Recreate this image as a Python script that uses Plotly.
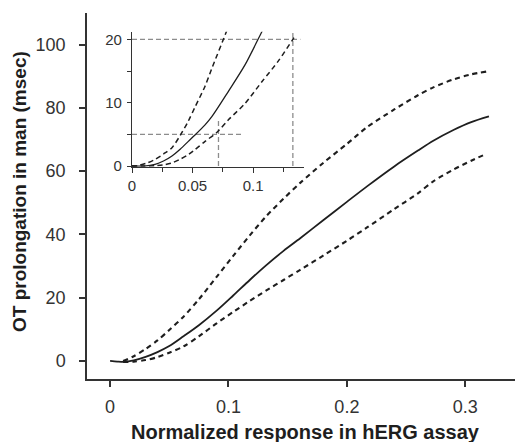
import plotly.graph_objects as go

# ---------------- main panel data ----------------
solid_x = [0.0, 0.006, 0.012, 0.02, 0.03, 0.04, 0.05, 0.062, 0.075, 0.09, 0.104, 0.118, 0.132,
           0.1465, 0.1606, 0.18, 0.2, 0.217, 0.24, 0.26, 0.273, 0.29, 0.305, 0.32]
solid_y = [0.0, -0.2, -0.3, 0.2, 1.3, 2.8, 4.7, 7.8, 11.3, 15.9, 20.7, 25.6, 30.3,
           34.8, 38.8, 44.5, 50.3, 55.2, 61.5, 66.5, 69.6, 73.0, 75.5, 77.3]

upper_x = [0.011, 0.02, 0.03, 0.04, 0.05, 0.062, 0.075, 0.09, 0.104, 0.118, 0.132, 0.1465,
           0.1606, 0.18, 0.2, 0.217, 0.24, 0.26, 0.273, 0.29, 0.305, 0.318]
upper_y = [0.0, 1.5, 3.8, 6.5, 9.8, 14.0, 19.5, 26.6, 33.2, 39.7, 45.8, 51.3,
           56.3, 62.6, 68.6, 73.9, 79.5, 84.0, 86.5, 89.0, 90.6, 91.5]

lower_x = [0.011, 0.02, 0.03, 0.04, 0.05, 0.062, 0.075, 0.09, 0.104, 0.118, 0.132, 0.1465,
           0.1606, 0.18, 0.2, 0.217, 0.24, 0.26, 0.273, 0.29, 0.305, 0.315]
lower_y = [-0.3, -0.2, 0.3, 1.2, 2.6, 4.6, 7.8, 11.9, 15.5, 19.0, 22.3, 25.6,
           28.8, 33.3, 38.0, 42.2, 48.0, 53.0, 56.8, 60.5, 63.3, 65.0]

main_xticks = [0, 0.1, 0.2, 0.3]
main_xlabels = ["0", "0.1", "0.2", "0.3"]
main_yticks = [0, 20, 40, 60, 80, 100]

# ---------------- inset data ----------------
in_solid_x = [0.0, 0.01, 0.019, 0.026, 0.033, 0.04, 0.0465, 0.052, 0.0603, 0.0659, 0.0796,
              0.0934, 0.1072, 0.110]
in_solid_y = [0.0, 0.0, 0.27, 0.8, 1.6, 2.7, 3.9, 4.9, 6.5, 7.8, 11.8, 16.0, 21.2, 22.2]

in_upper_x = [0.0, 0.004, 0.012, 0.019, 0.026, 0.033, 0.04, 0.0465, 0.052, 0.0603, 0.0659,
              0.0769, 0.079]
in_upper_y = [0.0, 0.05, 0.45, 1.05, 1.9, 2.9, 4.9, 7.1, 9.3, 12.6, 15.4, 20.7, 21.8]

in_lower_x = [0.0, 0.01, 0.019, 0.026, 0.033, 0.04, 0.0465, 0.052, 0.0603, 0.070, 0.0796,
              0.0934, 0.1072, 0.1209, 0.1328, 0.1347]
in_lower_y = [0.0, 0.0, 0.05, 0.2, 0.5, 1.1, 1.8, 2.6, 3.9, 5.3, 7.3, 9.9, 13.3, 16.6,
              20.0, 20.6]

# reference (grey dashed) guide lines in the inset
ref_h20_x = [0.0, 0.139]
ref_h20_y = [20, 20]
ref_v133_x = [0.1328, 0.1328]
ref_v133_y = [0, 21.2]
ref_h5_x = [0.0, 0.0906]
ref_h5_y = [5, 5]
ref_v071_x = [0.0714, 0.0714]
ref_v071_y = [0, 7.5]

inset_xticks = [0, 0.05, 0.1]
inset_xlabels = ["0", "0.05", "0.1"]
inset_yticks = [0, 10, 20]

INK = "#1e1e1e"
AX = "#333333"
GREY = "#8c8c8c"
FONT = "Liberation Sans, Arial, sans-serif"

fig = go.Figure()

# main curves
fig.add_trace(go.Scatter(x=upper_x, y=upper_y, mode="lines",
                         line=dict(color=INK, width=2.1, dash="5px,4px", shape="spline", smoothing=0.8),
                         xaxis="x", yaxis="y"))
fig.add_trace(go.Scatter(x=lower_x, y=lower_y, mode="lines",
                         line=dict(color=INK, width=2.1, dash="5px,4px", shape="spline", smoothing=0.8),
                         xaxis="x", yaxis="y"))
fig.add_trace(go.Scatter(x=solid_x, y=solid_y, mode="lines",
                         line=dict(color=INK, width=1.8, shape="spline", smoothing=0.8),
                         xaxis="x", yaxis="y"))

# inset guide lines
for gx, gy in [(ref_h20_x, ref_h20_y), (ref_v133_x, ref_v133_y),
               (ref_h5_x, ref_h5_y), (ref_v071_x, ref_v071_y)]:
    fig.add_trace(go.Scatter(x=gx, y=gy, mode="lines",
                             line=dict(color=GREY, width=1.3, dash="5px,3px"),
                             xaxis="x2", yaxis="y2"))

# inset curves
fig.add_trace(go.Scatter(x=in_upper_x, y=in_upper_y, mode="lines",
                         line=dict(color=INK, width=1.5, dash="5px,3.5px", shape="spline", smoothing=0.8),
                         xaxis="x2", yaxis="y2"))
fig.add_trace(go.Scatter(x=in_lower_x, y=in_lower_y, mode="lines",
                         line=dict(color=INK, width=1.5, dash="5px,3.5px", shape="spline", smoothing=0.8),
                         xaxis="x2", yaxis="y2"))
fig.add_trace(go.Scatter(x=in_solid_x, y=in_solid_y, mode="lines",
                         line=dict(color=INK, width=1.3, shape="spline", smoothing=0.8),
                         xaxis="x2", yaxis="y2"))

L, R, T, B = 87, 0, 13, 63
W, H = 515, 442
pw, ph = W - L - R, H - T - B

def px2paper_x(px):
    return (px - L) / pw

def px2paper_y(py):
    return (H - B - py) / ph

fig.update_layout(
    width=W, height=H,
    margin=dict(l=L, r=R, t=T, b=B, autoexpand=False),
    paper_bgcolor="white", plot_bgcolor="rgba(0,0,0,0)",
    showlegend=False,
    font=dict(family=FONT, color=AX),
    xaxis=dict(range=[-0.0195, 0.342], domain=[0, 1], anchor="y",
               tickvals=main_xticks, ticktext=main_xlabels,
               showline=True, linecolor=AX, linewidth=1.5,
               ticks="outside", ticklen=6, tickwidth=1.5, tickcolor=AX,
               showgrid=False, zeroline=False, ticklabelstandoff=5,
               tickfont=dict(size=18, color=AX, family=FONT)),
    yaxis=dict(range=[-5.7, 110], domain=[0, 1], anchor="x",
               tickvals=main_yticks,
               showline=True, linecolor=AX, linewidth=1.5,
               ticks="outside", ticklen=6, tickwidth=1.5, tickcolor=AX,
               showgrid=False, zeroline=False, ticklabelstandoff=10,
               tickfont=dict(size=18, color=AX, family=FONT)),
    xaxis2=dict(range=[0, 0.142], domain=[px2paper_x(132), px2paper_x(304)], anchor="y2",
                tickvals=inset_xticks, ticktext=inset_xlabels,
                minor=dict(dtick=0.025, tick0=0, ticks="outside", ticklen=4, tickwidth=1.2, tickcolor=AX),
                showline=True, linecolor=AX, linewidth=1.2,
                ticks="outside", ticklen=5, tickwidth=1.2, tickcolor=AX,
                showgrid=False, zeroline=False, ticklabelstandoff=0,
                tickfont=dict(size=15, color=AX, family=FONT)),
    yaxis2=dict(range=[-0.1, 21.2], domain=[px2paper_y(166.7), px2paper_y(31.7)], anchor="x2",
                tickvals=inset_yticks,
                minor=dict(dtick=5, tick0=0, ticks="outside", ticklen=4, tickwidth=1.2, tickcolor=AX),
                showline=True, linecolor=AX, linewidth=1.2,
                ticks="outside", ticklen=4, tickwidth=1.2, tickcolor=AX,
                showgrid=False, zeroline=False, ticklabelstandoff=2,
                tickfont=dict(size=15, color=AX, family=FONT)),
    annotations=[
        dict(text="<b>Normalized response in hERG assay</b>", xref="paper", yref="paper",
             x=px2paper_x(305), y=px2paper_y(432), xanchor="center", yanchor="middle",
             showarrow=False, font=dict(size=20, color=INK, family=FONT)),
        dict(text="<b>OT prolongation in man (msec)</b>", xref="paper", yref="paper",
             x=px2paper_x(19), y=px2paper_y(192), xanchor="center", yanchor="middle",
             textangle=-90, showarrow=False, font=dict(size=19, color=INK, family=FONT)),
    ],
)

fig.write_html("out.html", config={"displayModeBar": False},
               post_script="document.body.style.margin='0px';document.body.style.padding='0px';")
